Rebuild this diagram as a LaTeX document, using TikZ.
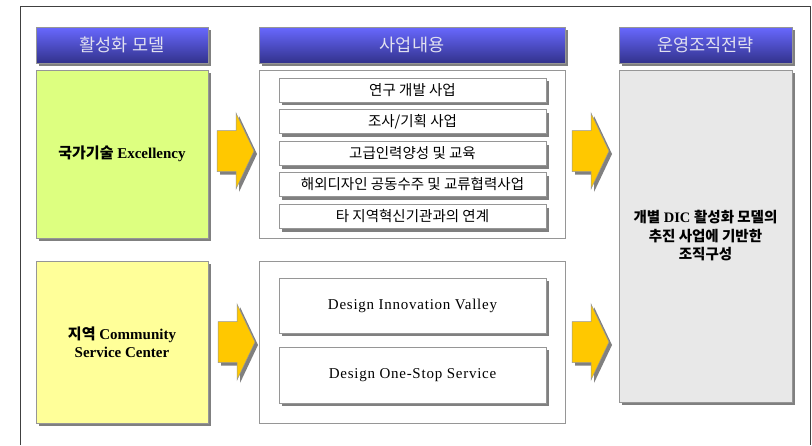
\documentclass[tikz,border=0pt]{standalone}
\usepackage{fontspec}
\setmainfont{Liberation Serif}
\newfontfamily\kr{Noto Sans CJK KR}
\newfontfamily\spaced[LetterSpace=5]{Liberation Serif}
\usetikzlibrary{shadows}

\definecolor{hdtop}{RGB}{104,104,255}
\definecolor{hdbot}{RGB}{50,50,140}
\definecolor{greenbox}{RGB}{221,255,128}
\definecolor{yellowbox}{RGB}{255,255,153}
\definecolor{greybox}{RGB}{232,232,232}
\definecolor{arrowgold}{RGB}{255,200,0}
\definecolor{shadowgrey}{RGB}{128,128,128}
\definecolor{edgegrey}{RGB}{150,150,150}
\definecolor{hdtext}{RGB}{225,225,240}

\begin{document}
\begin{tikzpicture}[x=1pt,y=-1pt,
  boxshadow/.style={drop shadow={shadow xshift=3pt,shadow yshift=-3pt,fill=shadowgrey,opacity=1}},
  hdr/.style={draw=edgegrey,line width=0.6pt,top color=hdtop,bottom color=hdbot,
    text=hdtext,font=\kr\fontsize{17.5}{20}\selectfont,inner sep=0pt,
    minimum height=36pt,boxshadow},
  model/.style={draw=edgegrey,line width=0.6pt,inner sep=0pt,minimum width=172pt,
    align=center,font=\bfseries\fontsize{15}{18}\selectfont,boxshadow},
  panel/.style={draw=edgegrey,line width=0.8pt,fill=white,inner sep=0pt,minimum width=306pt},
  item/.style={draw=edgegrey,line width=0.6pt,fill=white,inner sep=0pt,minimum width=267pt,
    font=\kr\fontsize{14.5}{16}\selectfont,boxshadow},
  bigitem/.style={item,font=\spaced\fontsize{15}{17}\selectfont},
  arrowbody/.style={fill=arrowgold,draw=edgegrey,line width=0.5pt},
  arrowshadow/.style={fill=shadowgrey}
]
\useasboundingbox (0,0) rectangle (812,445);
\fill[white] (0,0) rectangle (812,445);

% outer frame
\draw[black!75,line width=1pt] (20,445) -- (20,6) -- (810,6) -- (810,445);

% headers
\node[hdr,minimum width=172pt] (h1) at (122,45) {활성화 모델};
\node[hdr,minimum width=306pt] (h2) at (412,45) {사업내용};
\node[hdr,minimum width=173pt] (h3) at (705.5,45) {운영조직전략};

% left model boxes
\node[model,fill=greenbox,minimum height=168pt] (excel) at (122,154)
  {{\kr 국가기술} Excellency};
\node[model,fill=yellowbox,minimum height=162pt] (comm) at (122,342)
  {{\kr 지역} Community\\Service Center};

% middle panels
\node[panel,minimum height=168pt] (ptop) at (412,154) {};
\node[panel,minimum height=162pt] (pbot) at (412,342) {};

\node[item,minimum height=24pt] (i1) at (412.5,90) {연구 개발 사업};
\node[item,minimum height=24pt] (i2) at (412.5,121.5) {조사/기획 사업};
\node[item,minimum height=24pt] (i3) at (412.5,153.5) {고급인력양성 및 교육};
\node[item,minimum height=24pt] (i4) at (412.5,184.5) {해외디자인 공동수주 및 교류협력사업};
\node[item,minimum height=24pt] (i5) at (412.5,216.5) {타 지역혁신기관과의 연계};

\node[bigitem,minimum height=55pt] (div) at (412.5,305.5) {Design Innovation Valley};
\node[bigitem,minimum height=56pt] (dos) at (412.5,375) {Design One-Stop Service};

% right box
\node[model,fill=greybox,minimum width=173pt,minimum height=332pt,
  font=\bfseries\fontsize{14.5}{18.5}\selectfont] (org) at (705.5,236)
  {{\kr 개별} DIC {\kr 활성화 모델의}\\{\kr 추진 사업에 기반한}\\{\kr 조직구성}};

% block arrows
\foreach \ax/\ay in {217/151, 218/342, 572/151, 572/342}{
  \begin{scope}[shift={(\ax+3,\ay+3)}]
    \fill[arrowshadow] (0,-20.5) -- (19,-20.5) -- (19,-38) -- (37,0) -- (19,38) -- (19,20.5) -- (0,20.5) -- cycle;
  \end{scope}
  \begin{scope}[shift={(\ax,\ay)}]
    \filldraw[arrowbody] (0,-20.5) -- (19,-20.5) -- (19,-38) -- (37,0) -- (19,38) -- (19,20.5) -- (0,20.5) -- cycle;
  \end{scope}
}
\end{tikzpicture}
\end{document}
